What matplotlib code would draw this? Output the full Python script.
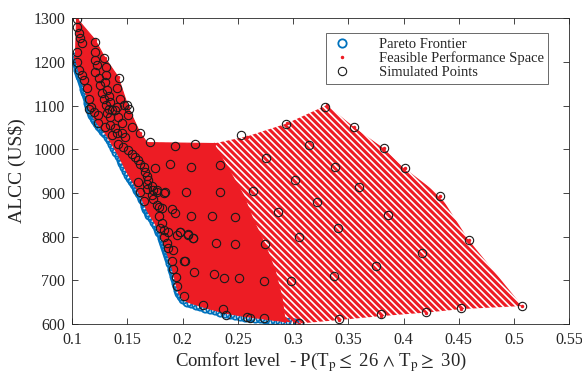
import matplotlib
matplotlib.use("Agg")
import matplotlib.pyplot as plt

# Pareto frontier (lower-left edge of the cloud)
pareto_x = [0.1028, 0.1033, 0.1038, 0.1044, 0.1050, 0.1057, 0.1065, 0.1072, 0.1080, 0.1088,
            0.1095, 0.1103, 0.1110, 0.1118, 0.1125, 0.1132, 0.1140, 0.1145, 0.1150, 0.1160,
            0.1170, 0.1182, 0.1195, 0.1210, 0.1225, 0.1242, 0.1260, 0.1280, 0.1300, 0.1320,
            0.1340, 0.1360, 0.1380, 0.1400, 0.1420, 0.1438, 0.1455, 0.1472, 0.1490, 0.1508,
            0.1525, 0.1542, 0.1560, 0.1575, 0.1590, 0.1605, 0.1620, 0.1633, 0.1646, 0.1658,
            0.1670, 0.1685, 0.1700, 0.1720, 0.1740, 0.1758, 0.1775, 0.1788, 0.1800, 0.1810,
            0.1820, 0.1830, 0.1840, 0.1850, 0.1860, 0.1870, 0.1880, 0.1890, 0.1900, 0.1908,
            0.1915, 0.1922, 0.1930, 0.1938, 0.1945, 0.1955, 0.1965, 0.1985, 0.2005, 0.2040,
            0.2080, 0.2120, 0.2160, 0.2205, 0.2250, 0.2295, 0.2340, 0.2385, 0.2430, 0.2475,
            0.2520, 0.2565, 0.2610, 0.2655, 0.2700, 0.2745, 0.2790, 0.2835, 0.2880, 0.2925,
            0.2970, 0.3010, 0.3050]
pareto_y = [1212, 1206, 1200, 1194, 1188, 1181, 1175, 1168, 1162, 1156,
            1150, 1144, 1138, 1132, 1126, 1119, 1112, 1105, 1098, 1091,
            1085, 1078, 1072, 1066, 1060, 1054, 1048, 1042, 1036, 1028,
            1020, 1011, 1003, 994, 985, 976, 968, 959, 950, 942,
            935, 927, 920, 913, 906, 899, 893, 885, 878, 871,
            864, 857, 850, 842, 834, 826, 818, 811, 805, 797,
            790, 783, 776, 769, 762, 755, 748, 740, 733, 725,
            718, 710, 703, 694, 686, 678, 670, 663, 656, 651,
            647, 644, 641, 637, 634, 631, 628, 625, 623, 621,
            619, 617, 616, 614, 613, 611, 610, 608, 607, 605,
            604, 602, 601]

# upper / right boundary of the feasible performance space (from top-left, clockwise)
edge_x = [0.1030, 0.1040, 0.1208, 0.1299, 0.1417, 0.1507, 0.1616, 0.1680, 0.2280, 0.2580,
          0.2944, 0.3306, 0.3550, 0.3820, 0.4012, 0.4332, 0.4590, 0.5075, 0.4522, 0.4205,
          0.3800, 0.3418, 0.3058]
edge_y = [1212, 1300, 1250, 1208, 1165, 1096, 1036, 1015, 1013, 1029,
          1059, 1101, 1051, 1002, 956, 894, 792, 641, 634, 626,
          618, 609, 601]

# where the dense (solid) part of the space turns into separate stripes
split_x = [0.228, 0.243, 0.255, 0.264, 0.275, 0.284, 0.290, 0.293]
split_y = [1013, 948, 895, 838, 780, 720, 660, 603]

# simulated points
sim_x = [0.1045, 0.1045, 0.1061, 0.1075, 0.1091, 0.1045, 0.1045, 0.1061, 0.1091, 0.1106,
         0.1136, 0.1151, 0.1166, 0.1196, 0.1206, 0.1211, 0.1211, 0.1226, 0.1211, 0.1242,
         0.1256, 0.1272, 0.1287, 0.1302, 0.1332, 0.1362, 0.1392, 0.1287, 0.1302, 0.1302,
         0.1296, 0.1317, 0.1332, 0.1347, 0.1423, 0.1407, 0.1437, 0.1468, 0.1513,
         0.1148, 0.1238, 0.1314, 0.1344, 0.1419, 0.1510, 0.1405, 0.1495, 0.1616, 0.1706,
         0.1933, 0.1359, 0.1405, 0.1450, 0.1480, 0.1419, 0.1464, 0.1510, 0.1540, 0.1570,
         0.1600, 0.1616, 0.1646, 0.1661, 0.1676, 0.1691, 0.1752, 0.1887, 0.1616, 0.1676,
         0.1722, 0.1767, 0.1842, 0.1235, 0.1299, 0.1344, 0.1390, 0.1450, 0.1540,
         0.1600, 0.1676, 0.1722, 0.1736, 0.1767, 0.1827, 0.1646, 0.1736, 0.1767, 0.1790,
         0.1812, 0.1903, 0.1933, 0.1790, 0.1812, 0.1797, 0.1827, 0.1872, 0.1978, 0.1953,
         0.2053, 0.2098, 0.1827, 0.1857, 0.1872, 0.1917, 0.2023, 0.1903, 0.1912, 0.1942,
         0.1953, 0.2008, 0.2189,
         0.2111, 0.2527, 0.2935, 0.3290, 0.3550, 0.3146, 0.3820, 0.2757, 0.3378, 0.4012,
         0.3013, 0.3600, 0.2636, 0.4332, 0.3215, 0.2860, 0.3860, 0.3405, 0.3058, 0.2750,
         0.4590, 0.4169, 0.3753, 0.3375, 0.2980, 0.2740, 0.5075, 0.4522, 0.4205, 0.3800,
         0.3418, 0.3058, 0.2740, 0.2610,
         0.2075, 0.2334, 0.2032, 0.2334, 0.2075, 0.2268, 0.2470, 0.1980, 0.2053, 0.2093,
         0.2304, 0.2470, 0.2014, 0.2105, 0.2286, 0.2379, 0.2506, 0.2370, 0.2394, 0.2587]
sim_y = [1297, 1280, 1265, 1254, 1242, 1223, 1200, 1181, 1170, 1158,
         1139, 1116, 1097, 1086, 1245, 1223, 1204, 1193, 1177, 1162,
         1147, 1128, 1116, 1101, 1091, 1090, 1090, 1208, 1189, 1170,
         1154, 1135, 1122, 1109, 1162, 1139, 1116, 1101, 1093,
         1093, 1078, 1082, 1074, 1074, 1078, 1097, 1101, 1036, 1017,
         1007, 1032, 1036, 1036, 1029, 1013, 1006, 998, 990, 983,
         975, 967, 960, 948, 939, 929, 958, 966, 903, 910,
         895, 907, 903, 1060, 1051, 1055, 1048, 1060, 1050,
         926, 920, 916, 906, 903, 900, 882, 885, 872, 867,
         865, 862, 855, 847, 830, 819, 815, 811, 811, 804,
         804, 796, 800, 785, 773, 769, 744, 743, 725, 708,
         687, 664, 643,
         1012, 1032, 1057, 1096, 1051, 1010, 1002, 981, 959, 956,
         929, 913, 905, 894, 878, 856, 849, 820, 798, 783,
         792, 763, 733, 710, 698, 698, 641, 636, 628, 622,
         612, 603, 613, 614,
         959, 964, 902, 902, 846, 846, 844, 811, 807, 796,
         786, 783, 744, 720, 714, 705, 705, 634, 621, 615]

x_ticks = [0.1, 0.15, 0.2, 0.25, 0.3, 0.35, 0.4, 0.45, 0.5, 0.55]
x_labels = ["0.1", "0.15", "0.2", "0.25", "0.3", "0.35", "0.4", "0.45", "0.5", "0.55"]
y_ticks = [600, 700, 800, 900, 1000, 1100, 1200, 1300]

plt.rcParams["font.family"] = ["Liberation Serif", "DejaVu Serif"]
plt.rcParams["mathtext.fontset"] = "stix"
plt.rcParams["hatch.linewidth"] = 2.2

RED = "#ed1c24"
BLUE = "#0072bd"
GRAY = "#262626"

fig = plt.figure(figsize=(5.82, 3.78), dpi=100)
ax = fig.add_axes([0.124, 0.143, 0.854, 0.809])

# Pareto frontier first, the feasible space is drawn over it
ax.plot(pareto_x, pareto_y, "o", mfc="none", mec=BLUE, ms=6, mew=1.3,
        label="Pareto Frontier", zorder=1)

# whole feasible region as stripes
feas_x = edge_x + pareto_x[::-1]
feas_y = edge_y + pareto_y[::-1]
ax.fill(feas_x, feas_y, facecolor="none", edgecolor=RED, lw=0,
        hatch="\\\\\\\\\\", zorder=2)

# dense part on the left as solid red
keep = [i for i in range(len(pareto_x) - 1, -1, -1) if pareto_x[i] < split_x[-1]]
solid_x = edge_x[:8] + split_x + [pareto_x[i] for i in keep]
solid_y = edge_y[:8] + split_y + [pareto_y[i] for i in keep]
ax.fill(solid_x, solid_y, facecolor=RED, edgecolor=RED, lw=0.8, zorder=2)
ax.plot(edge_x, edge_y, ".", color=RED, ms=3, label="Feasible Performance Space", zorder=2)

ax.plot(sim_x, sim_y, "o", mfc="none", mec="#1a1a1a", ms=6, mew=0.8,
        label="Simulated Points", zorder=3)

ax.set_xlim(0.1, 0.55)
ax.set_ylim(600, 1300)
ax.set_xticks(x_ticks)
ax.set_xticklabels(x_labels)
ax.set_yticks(y_ticks)
ax.tick_params(direction="in", top=True, right=True, length=4, width=0.6,
               colors=GRAY, labelsize=11.5)
ax.tick_params(axis="x", pad=6)
ax.tick_params(axis="y", pad=5)
for s in ax.spines.values():
    s.set_linewidth(0.6)
    s.set_color(GRAY)

ax.set_xlabel(r"Comfort level  - P(T$_\mathrm{p}$$\leq$ 26 $\wedge$ T$_\mathrm{p}$$\geq$ 30)",
              fontsize=13.5, color=GRAY, labelpad=1)
ax.set_ylabel("ALCC (US$)", fontsize=14, color=GRAY, labelpad=5)

leg = ax.legend(loc="upper right", bbox_to_anchor=(0.958, 0.951), borderaxespad=0,
                fontsize=10.5, frameon=True, fancybox=False, handlelength=1.5,
                handletextpad=1.8, borderpad=0.3, labelspacing=0.05, markerscale=1.0)
leg.get_frame().set_edgecolor(GRAY)
leg.get_frame().set_linewidth(0.6)
for t in leg.get_texts():
    t.set_color(GRAY)

fig.savefig("out.png", dpi=100)
